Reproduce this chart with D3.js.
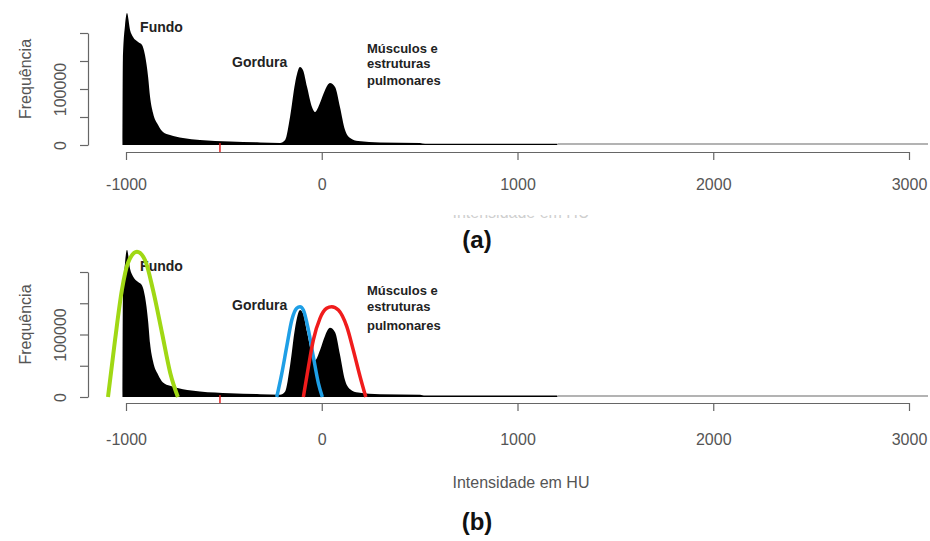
<!DOCTYPE html>
<html>
<head>
<meta charset="utf-8">
<script src="https://cdn.jsdelivr.net/npm/d3@7"></script>
<style>
  body { margin: 0; background: #fff; }
  text { font-family: "Liberation Sans", Arial, sans-serif; }
</style>
</head>
<body>
<div id="chart"></div>
<script>
////////////////////  data  //////////////////////////////

// histogram of HU intensities: [HU, frequency]
var histHU    = [-1018, -1016, -1005, -995, -979, -964, -938, -918, -903, -887, -877, -862, -836, -811, -775, -709, -622, -468, -315, -213,
                 -187, -162, -136, -111, -96, -75, -50, -34, -9, 17, 42, 68, 93, 119, 145, 186, 298, 502, 528, 1202, 1205];
var histFreq  = [0, 152000, 214000, 235700, 205000, 193000, 184000, 178600, 160700, 121400, 85700, 57100, 35700, 23200, 17900, 12500, 8900, 6200, 4500, 3600,
                 8900, 50000, 110700, 139300, 133900, 103600, 67900, 58900, 75000, 98200, 110700, 103600, 67900, 26800, 12500, 7100, 4500, 3600, 2300, 2300, 0];

// fitted curves drawn on panel (b)
var fundoHU   = [-1092, -1056, -1021, -990, -944, -903, -862, -816, -774, -735];
var fundoFreq = [0, 91200, 171200, 214400, 232500, 219200, 171200, 102400, 38400, 0];
var gordHU    = [-230, -204, -179, -153, -128, -111, -94, -68, -43, -17, 3];
var gordFreq  = [0, 37900, 80500, 123200, 141900, 144500, 139200, 107200, 64500, 21900, 0];
var muscHU    = [-94, -68, -43, -9, 25, 51, 85, 128, 161, 196, 225];
var muscFreq  = [0, 48500, 91200, 125900, 141900, 144500, 139200, 112500, 75200, 32500, 0];

var xTicks = [-1000, 0, 1000, 2000, 3000];
var yTicks = [0, 50000, 100000, 150000, 200000];
var yLabels = [0, 100000];
var markHU = -520;

// annotations, anchored in data units
var notes = [
  {t: "Fundo",      hu: -928, f: 201800, size: 14},
  {t: "Gordura",    hu: -458, f: 139000, size: 14},
  {t: "Músculos e", hu: 231,  f: 164000, size: 13},
  {t: "estruturas", hu: 231,  f: 137000, size: 13},
  {t: "pulmonares", hu: 231,  f: 107000, size: 13}
];

//////////////////////////////// set up the svg ////////////////////////////////////////

var svgWidth = 930, svgHeight = 541;
var svg = d3.select("#chart").append("svg")
  .attr("width", svgWidth).attr("height", svgHeight);
svg.append("rect").attr("width", svgWidth).attr("height", svgHeight).attr("fill", "#fff");

var xScale = d3.scaleLinear().domain([-1000, 3000]).range([126, 909]);

var panels = [
  {id: "a", y0: 145, y200: 33,  axisY: 152, pad: 19, fit: false},
  {id: "b", y0: 397, y200: 272, axisY: 403, pad: 23, fit: true}
];

var hist = histHU.map((h, i) => [h, histFreq[i]]);

panels.forEach(function (p) {
  var yScale = d3.scaleLinear().domain([0, 200000]).range([p.y0, p.y200]);
  var g = svg.append("g");

  // histogram
  g.append("path")
    .datum(hist)
    .attr("fill", "#000")
    .attr("d", d3.area().curve(d3.curveMonotoneX)
      .x(d => xScale(d[0])).y0(yScale(0)).y1(d => yScale(d[1])));

  // baseline continuing past the data
  g.append("line")
    .attr("x1", xScale(histHU[histHU.length - 1])).attr("x2", 928)
    .attr("y1", yScale(0) - 1).attr("y2", yScale(0) - 1)
    .attr("stroke", "#9a9a9a").attr("stroke-width", 1.5);

  // red marker
  g.append("line")
    .attr("x1", xScale(markHU)).attr("x2", xScale(markHU))
    .attr("y1", yScale(0) - 2).attr("y2", p.axisY)
    .attr("stroke", "#e02020").attr("stroke-width", 1.5);

  // x axis
  var xg = g.append("g")
    .attr("transform", `translate(0, ${p.axisY})`)
    .call(d3.axisBottom(xScale).tickValues(xTicks).tickSize(8).tickSizeOuter(0)
      .tickPadding(p.pad).tickFormat(d => String(d)));
  xg.selectAll("path, line").attr("stroke", "#666").attr("stroke-width", 1.2);
  xg.selectAll("text").attr("font-size", 16).attr("fill", "#555")
    .attr("font-family", "Liberation Sans, Arial, sans-serif");

  // y axis
  var yg = g.append("g")
    .attr("transform", "translate(88,0)")
    .call(d3.axisLeft(yScale).tickValues(yTicks).tickSize(8).tickSizeOuter(0)
      .tickFormat(d => yLabels.indexOf(d) >= 0 ? String(d) : ""));
  yg.selectAll("path, line").attr("stroke", "#666").attr("stroke-width", 1.2);
  yg.selectAll("text")
    .attr("x", 0).attr("y", 0).attr("dy", 0)
    .attr("transform", "translate(-22,0) rotate(-90)")
    .attr("text-anchor", "middle")
    .attr("font-size", 16).attr("fill", "#555")
    .attr("font-family", "Liberation Sans, Arial, sans-serif");

  g.append("text")
    .attr("transform", `translate(31, ${(p.y0 + p.y200) / 2 - 10}) rotate(-90)`)
    .attr("text-anchor", "middle")
    .attr("font-size", 16).attr("fill", "#555")
    .text("Frequência");

  // annotations
  g.selectAll(".note").data(notes).enter().append("text")
    .attr("class", "note")
    .attr("x", d => xScale(d.hu)).attr("y", d => yScale(d.f))
    .attr("font-size", d => d.size).attr("font-weight", "bold").attr("fill", "#222")
    .text(d => d.t);

  // fitted curves
  if (p.fit) {
    var line = d3.line().curve(d3.curveMonotoneX)
      .x(d => xScale(d[0])).y(d => yScale(d[1]));
    var fits = [
      {hu: fundoHU, f: fundoFreq, c: "#a0d814", w: 4},
      {hu: gordHU,  f: gordFreq,  c: "#1e9fe6", w: 3.5},
      {hu: muscHU,  f: muscFreq,  c: "#f01c1c", w: 3.5}
    ];
    fits.forEach(function (s) {
      g.append("path")
        .datum(s.hu.map((h, i) => [h, s.f[i]]))
        .attr("fill", "none").attr("stroke", s.c).attr("stroke-width", s.w)
        .attr("stroke-linejoin", "round")
        .attr("d", line);
    });
  }
});

//////////////////////////////// titles ////////////////////////////////////////

// faint, cut-off axis title under panel (a)
svg.append("clipPath").attr("id", "cut")
  .append("rect").attr("x", 440).attr("y", 215).attr("width", 170).attr("height", 3);
svg.append("text")
  .attr("x", 521).attr("y", 218).attr("text-anchor", "middle")
  .attr("font-size", 16).attr("fill", "#cfcfcf")
  .attr("clip-path", "url(#cut)")
  .text("Intensidade em HU");

svg.append("text")
  .attr("x", 521).attr("y", 488).attr("text-anchor", "middle")
  .attr("font-size", 16).attr("fill", "#555")
  .text("Intensidade em HU");

svg.append("text")
  .attr("x", 477).attr("y", 248).attr("text-anchor", "middle")
  .attr("font-family", "DejaVu Sans, sans-serif")
  .attr("font-size", 24).attr("font-weight", "bold").attr("fill", "#111")
  .text("(a)");

svg.append("text")
  .attr("x", 477).attr("y", 530).attr("text-anchor", "middle")
  .attr("font-family", "DejaVu Sans, sans-serif")
  .attr("font-size", 24).attr("font-weight", "bold").attr("fill", "#111")
  .text("(b)");
</script>
</body>
</html>
